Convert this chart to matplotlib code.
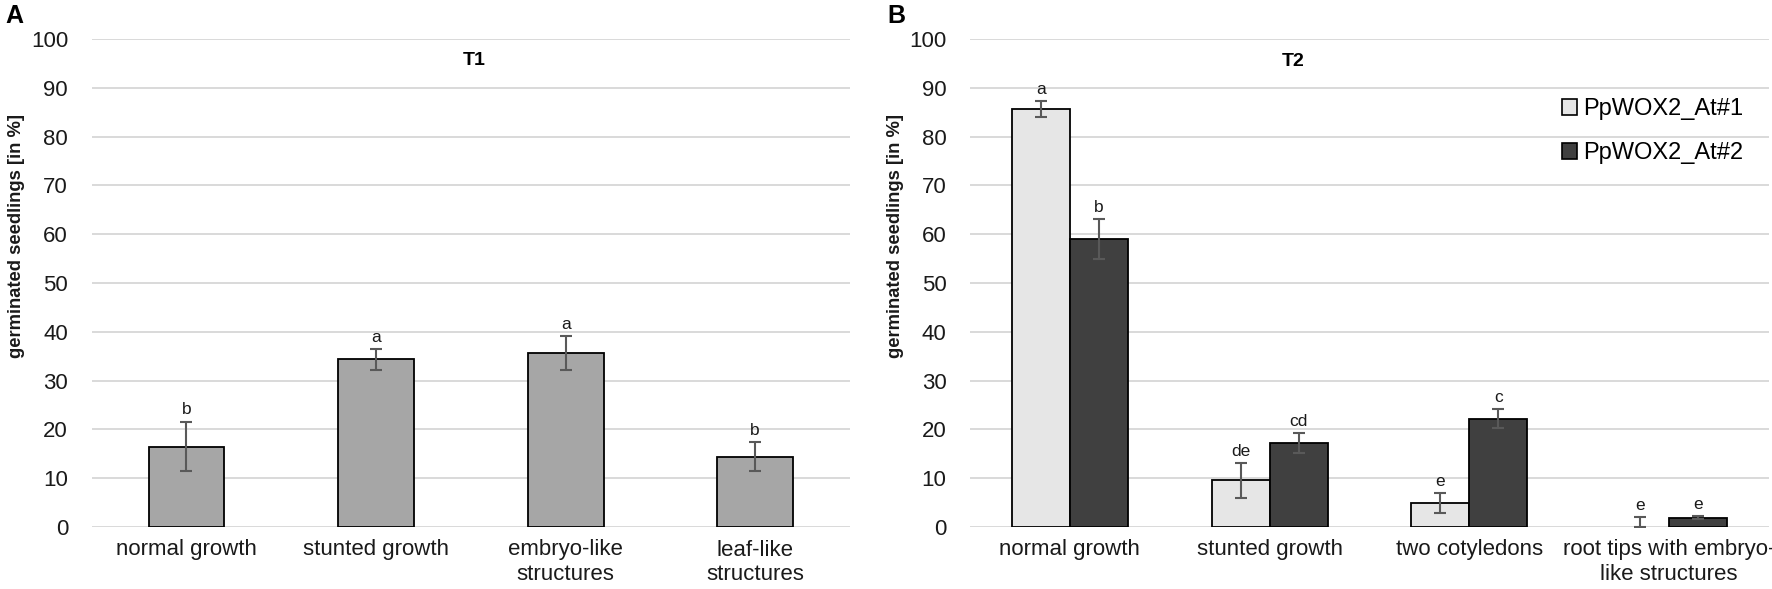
import numpy as np
import matplotlib
matplotlib.use('Agg')
from matplotlib import pyplot as plt
from matplotlib.patches import Patch

plt.rcParams['font.family'] = ['Liberation Sans', 'DejaVu Sans']

# Panel A (T1)
cats_a = ['normal growth', 'stunted growth', 'embryo-like\nstructures', 'leaf-like\nstructures']
val_a = [16.4, 34.4, 35.6, 14.4]
lo_a = [11.5, 32.2, 32.2, 11.5]
hi_a = [21.6, 36.4, 39.1, 17.4]
let_a = ['b', 'a', 'a', 'b']

# Panel B (T2)
cats_b = ['normal growth', 'stunted growth', 'two cotyledons', 'root tips with embryo-\nlike structures']
series_b = ['PpWOX2_At#1', 'PpWOX2_At#2']
val_b1 = [85.7, 9.6, 5.0, 0.0]
lo_b1 = [84.1, 5.9, 2.9, 0.0]
hi_b1 = [87.3, 13.1, 7.0, 2.1]
let_b1 = ['a', 'de', 'e', 'e']
val_b2 = [59.0, 17.3, 22.2, 1.9]
lo_b2 = [55.0, 15.1, 20.2, 1.6]
hi_b2 = [63.1, 19.2, 24.1, 2.2]
let_b2 = ['b', 'cd', 'c', 'e']

W, H = 1772, 589
fig = plt.figure(figsize=(W/100, H/100), dpi=100)

def px_axes(x0, x1, y_top, y_bot):
    return fig.add_axes([x0/W, 1-y_bot/H, (x1-x0)/W, (y_bot-y_top)/H])

axA = px_axes(91.7, 850, 39, 527)
axB = px_axes(970, 1769, 39, 527)

err_kw = dict(ecolor='#595959', elinewidth=1.5, capsize=4.5, capthick=1.5)

def style(ax, cats):
    ax.set_ylim(0, 100)
    ax.set_xlim(-0.5, len(cats)-0.5)
    ax.set_yticks(np.arange(0, 101, 10))
    ax.set_xticks(np.arange(len(cats)))
    ax.set_xticklabels(cats, fontsize=16, linespacing=1.25)
    ax.tick_params(axis='y', length=0, pad=17, labelsize=16, labelcolor='#1a1a1a')
    ax.tick_params(axis='x', length=0, pad=9, labelcolor='#1a1a1a')
    for s in ax.spines.values():
        s.set_visible(False)
    ax.yaxis.grid(True, color='#d9d9d9', lw=1.4)
    ax.set_axisbelow(True)

def letters(ax, xs, hi, labs):
    for x, h, l in zip(xs, hi, labs):
        ax.annotate(l, (x, h), xytext=(0, 3), textcoords='offset points',
                    ha='center', va='bottom', fontsize=12.5, color='#1a1a1a')

# Panel A
xa = np.arange(len(cats_a))
va = np.array(val_a)
axA.bar(xa, va, width=0.40, color='#a6a6a6', edgecolor='black', lw=1.3,
        yerr=[va-np.array(lo_a), np.array(hi_a)-va], error_kw=err_kw)
style(axA, cats_a)
letters(axA, xa, hi_a, let_a)
axA.text(0.504, 95.5, 'T1', ha='center', va='center', fontsize=14, fontweight='bold',
         transform=axA.get_yaxis_transform())

# Panel B
xb = np.arange(len(cats_b))
bw = 0.29
v1 = np.array(val_b1)
v2 = np.array(val_b2)
axB.bar(xb-bw/2, v1, width=bw, color='#e6e6e6', edgecolor='black',
        lw=[1.3 if v > 0 else 0 for v in v1],
        yerr=[v1-np.array(lo_b1), np.array(hi_b1)-v1], error_kw=err_kw, label=series_b[0])
axB.bar(xb+bw/2, v2, width=bw, color='#404040', edgecolor='black', lw=1.3,
        yerr=[v2-np.array(lo_b2), np.array(hi_b2)-v2], error_kw=err_kw, label=series_b[1])
style(axB, cats_b)
letters(axB, xb-bw/2, hi_b1, let_b1)
letters(axB, xb+bw/2, hi_b2, let_b2)
axB.text(0.405, 95.3, 'T2', ha='center', va='center', fontsize=14, fontweight='bold',
         transform=axB.get_yaxis_transform())

handles = [Patch(facecolor='#e6e6e6', edgecolor='black', lw=1.2),
           Patch(facecolor='#404040', edgecolor='black', lw=1.2)]
fig.legend(handles, series_b, loc='upper left', bbox_to_anchor=(1562/W, 1-98/H),
           frameon=False, fontsize=17, handlelength=0.65, handleheight=0.65,
           handletextpad=0.25, labelspacing=0.95, borderpad=0, borderaxespad=0)

# y labels
for xp in (17, 895):
    fig.text(xp/W, 1-236/H, 'germinated seedlings [in %]', rotation=90, ha='center',
             va='center', fontsize=13.2, fontweight='bold', color='#1a1a1a')

# panel letters
fig.text(14/W, 1-16/H, 'A', ha='center', va='center', fontsize=18, fontweight='bold')
fig.text(896/W, 1-16/H, 'B', ha='center', va='center', fontsize=18, fontweight='bold')

fig.savefig('out.png', dpi=100)
